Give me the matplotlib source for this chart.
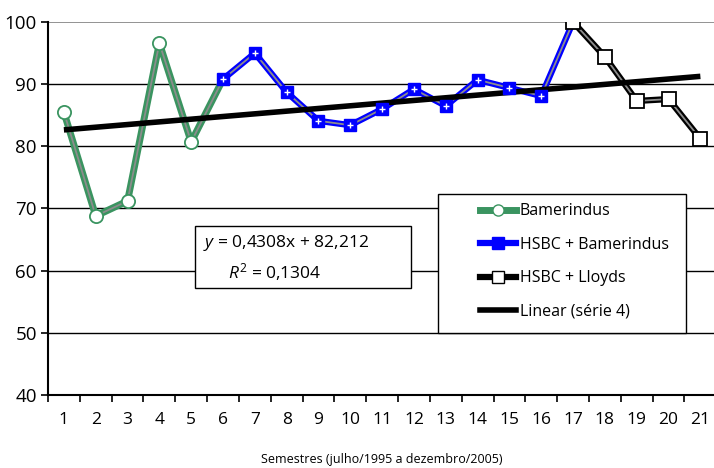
import matplotlib
matplotlib.use('Agg')
import matplotlib.pyplot as plt
from matplotlib.lines import Line2D
from matplotlib.patches import Rectangle
import numpy as np

plt.rcParams['font.family'] = ['Open Sans', 'DejaVu Sans']
plt.rcParams['mathtext.fontset'] = 'custom'
plt.rcParams['mathtext.rm'] = 'Open Sans'
plt.rcParams['mathtext.it'] = 'Open Sans:italic'

# semesters and values
semesters = list(range(1, 22))
bamerindus_x = [1, 2, 3, 4, 5, 6]
bamerindus_y = [85.5, 68.8, 71.2, 96.6, 80.7, 90.8]
hsbc_bam_x = [6, 7, 8, 9, 10, 11, 12, 13, 14, 15, 16, 17]
hsbc_bam_y = [90.8, 95.0, 88.7, 84.1, 83.4, 86.0, 89.2, 86.5, 90.7, 89.4, 88.1, 100.0]
hsbc_lloyds_x = [17, 18, 19, 20, 21]
hsbc_lloyds_y = [100.0, 94.4, 87.3, 87.6, 81.2]
trend_slope = 0.4308
trend_intercept = 82.212
trend_r2 = 0.1304

green = '#3a9460'
blue = '#0000ff'
inner = '#8c8c8c'

fig = plt.figure(figsize=(7.14, 4.68), dpi=100)
ax = fig.add_axes([0.0672, 0.156, 0.936, 0.797])

ax.set_xlim(0.5, 21.5)
ax.set_ylim(40, 100)

# horizontal grid
for yv in [50, 60, 70, 80, 90]:
    ax.axhline(yv, color='black', linewidth=1.0, zorder=1)
ax.axhline(100, color='#808080', linewidth=1.2, zorder=1)

# trend line
trend_x = np.array([1, 21])
trend_y = trend_slope * trend_x + trend_intercept

# Bamerindus (green, double line)
ax.plot(bamerindus_x, bamerindus_y, color=green, linewidth=5, zorder=3,
        solid_joinstyle='round')
ax.plot(bamerindus_x, bamerindus_y, color=inner, linewidth=1.3, zorder=3.1)
ax.plot(bamerindus_x[:-1], bamerindus_y[:-1], linestyle='none', marker='o',
        markersize=9.5, markerfacecolor='white', markeredgecolor=green,
        markeredgewidth=1.3, zorder=6)

# HSBC + Bamerindus
ax.plot(hsbc_bam_x, hsbc_bam_y, color=blue, linewidth=4.5, zorder=3,
        solid_joinstyle='round')
ax.plot(hsbc_bam_x, hsbc_bam_y, color=inner, linewidth=1.3, zorder=3.1)
ax.plot(hsbc_bam_x[:-1], hsbc_bam_y[:-1], linestyle='none', marker='s',
        markersize=9, markerfacecolor=blue, markeredgecolor=blue, zorder=6)
ax.plot(hsbc_bam_x[:-1], hsbc_bam_y[:-1], linestyle='none', marker='+',
        markersize=4, markeredgecolor='white', markeredgewidth=1.0, zorder=6.1)

# HSBC + Lloyds
ax.plot(hsbc_lloyds_x, hsbc_lloyds_y, color='black', linewidth=4.5, zorder=3,
        solid_joinstyle='round')
ax.plot(hsbc_lloyds_x, hsbc_lloyds_y, color=inner, linewidth=1.3, zorder=3.1)
ax.plot(hsbc_lloyds_x, hsbc_lloyds_y, linestyle='none', marker='s',
        markersize=10.5, markerfacecolor='white', markeredgecolor='black',
        markeredgewidth=1.3, zorder=6)

ax.plot(trend_x, trend_y, color='black', linewidth=4, zorder=5,
        solid_capstyle='butt')

# axes styling
for side in ['top', 'right']:
    ax.spines[side].set_visible(False)
ax.spines['left'].set_linewidth(1.5)
ax.spines['bottom'].set_linewidth(1.5)

ax.set_yticks([40, 50, 60, 70, 80, 90, 100])
ax.tick_params(axis='y', labelsize=13.5, length=5, width=1.2, pad=3)
ax.set_xticks(semesters)
ax.set_xticks(np.arange(0.5, 22, 1), minor=True)
ax.tick_params(axis='x', which='major', length=0, labelsize=12.5, pad=12)
ax.tick_params(axis='x', which='minor', length=5, width=1.2)
ax.set_xlabel('Semestres (julho/1995 a dezembro/2005)', fontsize=9, labelpad=18)

# equation box
ax.add_patch(Rectangle((0.220, 0.287), 0.323, 0.166, transform=ax.transAxes,
                       facecolor='white', edgecolor='black', linewidth=1.0,
                       zorder=7))
eq = f'$y$ = {trend_slope:.4f}x + {trend_intercept:.3f}'.replace('.', ',')
r2 = f'$R^2$ = {trend_r2:.4f}'.replace('.', ',')
ax.text(0.232, 0.407, eq, transform=ax.transAxes, fontsize=12.5, va='center',
        ha='left', zorder=8)
ax.text(0.27, 0.33, r2, transform=ax.transAxes, fontsize=12.5, va='center',
        ha='left', zorder=8)

# legend box, drawn separately so the inner padding matches
ax.add_patch(Rectangle((0.584, 0.166), 0.371, 0.373, transform=ax.transAxes,
                       facecolor='white', edgecolor='black', linewidth=1.0,
                       zorder=8))
handles = [
    Line2D([], [], color=green, linewidth=5, marker='o', markersize=8,
           markerfacecolor='white', markeredgecolor=green),
    Line2D([], [], color=blue, linewidth=4.5, marker='s', markersize=8,
           markerfacecolor=blue, markeredgecolor=blue),
    Line2D([], [], color='black', linewidth=4.5, marker='s', markersize=8,
           markerfacecolor='white', markeredgecolor='black'),
    Line2D([], [], color='black', linewidth=4),
]
labels = ['Bamerindus', 'HSBC + Bamerindus', 'HSBC + Lloyds', 'Linear (série 4)']
leg = ax.legend(handles, labels, loc='center left', bbox_to_anchor=(0.647, 0.358),
                fontsize=11.5, frameon=False, handlelength=2.2, handletextpad=0.25,
                labelspacing=1.1, borderpad=0, borderaxespad=0)
leg.set_zorder(9)

fig.savefig('out.png', dpi=100)
